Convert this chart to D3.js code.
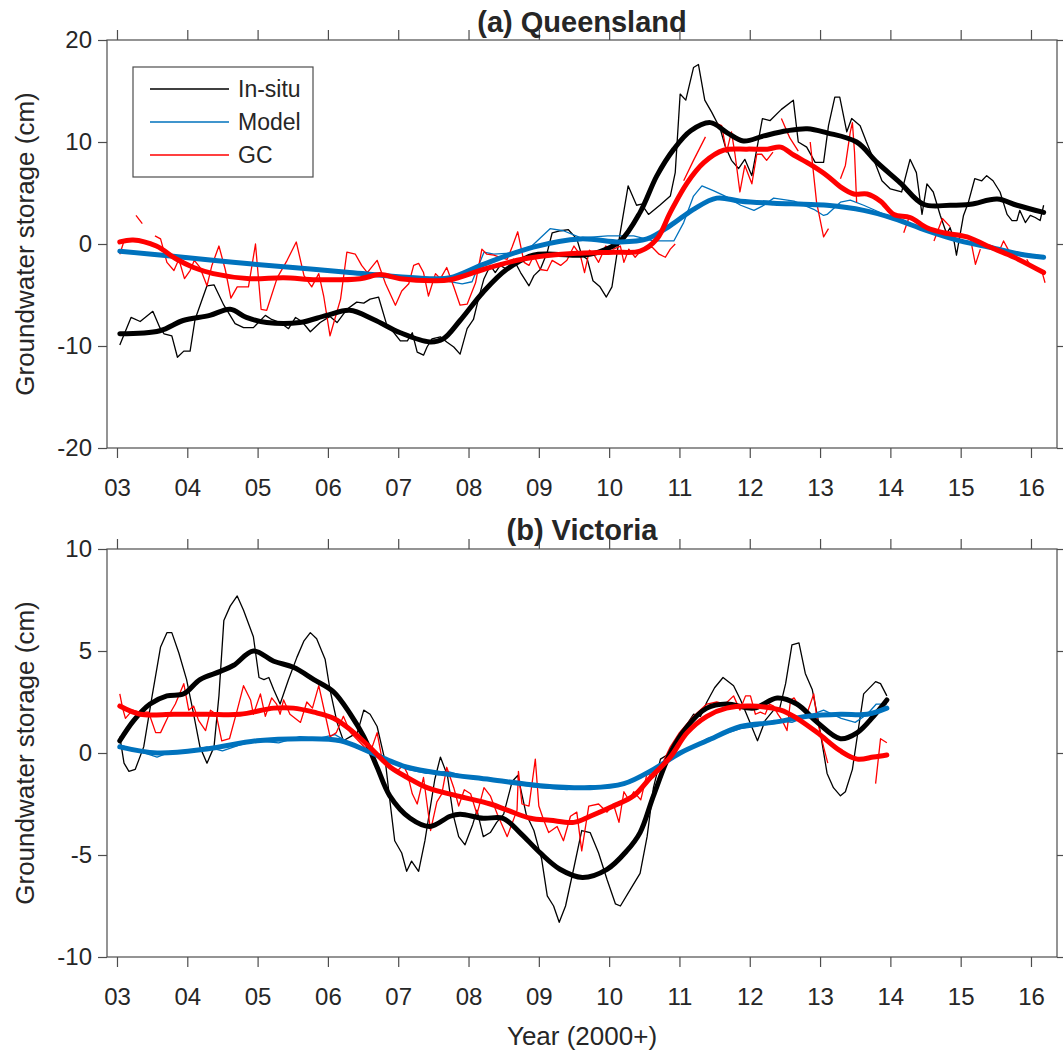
<!DOCTYPE html>
<html>
<head>
<meta charset="utf-8">
<script src="https://cdn.jsdelivr.net/npm/d3@7"></script>
<style>
  body { margin: 0; background: #fff; }
  svg text { font-family: "Liberation Sans", Arial, sans-serif; fill: #262626; }
</style>
</head>
<body>
<div id="chart"></div>
<script>
// ---- data (year offset from 2000, groundwater storage in cm) ----
const yearTicks = [3, 4, 5, 6, 7, 8, 9, 10, 11, 12, 13, 14, 15, 16];
const yearLabels = ["03", "04", "05", "06", "07", "08", "09", "10", "11", "12", "13", "14", "15", "16"];
const seriesNames = ["In-situ", "Model", "GC"];

// (a) Queensland
const qldInsitu = [[3.04,-9.9],[3.20,-7.2],[3.33,-7.6],[3.51,-6.6],[3.61,-8.2],[3.67,-8.8],[3.78,-9.0],[3.86,-11.1],[3.95,-10.5],[4.04,-10.5],[4.11,-7.4],[4.28,-4.1],[4.38,-4.0],[4.52,-6.0],[4.68,-7.8],[4.80,-8.2],[4.94,-8.2],[5.11,-7.0],[5.20,-7.4],[5.32,-7.7],[5.44,-8.3],[5.54,-7.2],[5.63,-7.6],[5.75,-8.6],[5.89,-7.7],[6.03,-7.1],[6.13,-7.7],[6.27,-6.4],[6.41,-5.7],[6.51,-5.8],[6.60,-5.4],[6.72,-5.2],[6.84,-8.0],[6.94,-8.7],[7.03,-9.5],[7.13,-9.5],[7.20,-8.7],[7.27,-10.6],[7.36,-10.9],[7.41,-10.1],[7.48,-9.3],[7.60,-9.1],[7.69,-9.6],[7.79,-10.1],[7.88,-10.8],[7.98,-8.3],[8.07,-7.4],[8.14,-5.4],[8.22,-3.4],[8.31,-2.1],[8.38,-2.8],[8.45,-2.1],[8.55,-2.5],[8.64,-1.5],[8.74,-2.8],[8.86,-4.1],[8.93,-3.1],[9.02,-2.5],[9.12,-0.8],[9.19,1.1],[9.31,1.3],[9.42,1.4],[9.54,0.5],[9.61,-1.1],[9.69,-1.5],[9.77,-3.6],[9.87,-4.2],[9.96,-5.2],[10.04,-4.2],[10.15,0.8],[10.27,5.7],[10.39,3.8],[10.46,3.9],[10.56,2.9],[10.72,3.8],[10.87,4.7],[10.94,7.0],[11.01,14.7],[11.09,14.1],[11.20,17.3],[11.27,17.6],[11.36,14.1],[11.46,12.9],[11.58,11.3],[11.65,9.6],[11.74,8.2],[11.84,7.4],[11.93,8.3],[12.03,6.7],[12.10,9.3],[12.18,12.3],[12.29,12.1],[12.45,13.2],[12.62,14.1],[12.69,10.0],[12.81,9.5],[12.93,8.0],[13.05,8.0],[13.12,11.6],[13.21,14.4],[13.28,14.4],[13.38,11.0],[13.45,12.3],[13.57,11.6],[13.66,10.0],[13.78,8.0],[13.88,6.2],[14.00,5.4],[14.16,5.1],[14.28,8.3],[14.37,7.0],[14.45,2.9],[14.52,5.9],[14.61,5.1],[14.71,2.8],[14.80,1.0],[14.85,1.6],[14.90,0.5],[14.94,-1.1],[15.04,2.8],[15.11,4.1],[15.20,6.4],[15.30,6.2],[15.37,6.7],[15.46,6.2],[15.56,5.1],[15.66,2.9],[15.73,2.3],[15.80,2.3],[15.84,3.3],[15.92,2.1],[15.99,2.8],[16.06,2.6],[16.13,2.3],[16.18,3.8]];
const qldModel = [[3.04,-0.6],[3.5,-1.0],[4.0,-1.3],[4.5,-1.6],[5.0,-2.0],[5.5,-2.3],[6.0,-2.6],[6.5,-2.8],[7.0,-3.1],[7.5,-3.4],[7.91,-3.9],[8.05,-3.7],[8.22,-0.8],[8.36,-1.0],[8.6,-0.9],[8.9,-0.2],[9.16,1.5],[9.35,1.3],[9.6,0.6],[9.98,0.8],[10.35,0.8],[10.63,0.3],[10.92,0.3],[11.06,2.1],[11.20,4.7],[11.32,5.7],[11.49,5.2],[11.68,4.6],[11.87,3.8],[12.06,3.3],[12.20,3.8],[12.34,4.5],[12.63,4.2],[12.91,3.4],[13.05,2.8],[13.10,2.9],[13.29,4.1],[13.43,4.3],[13.62,3.8],[14.05,2.5],[14.52,1.4],[15.0,0.4],[15.47,-0.3],[15.85,-0.9],[16.18,-1.2]];
const qldGC = [[3.04,-1.0],[3.10,0.3],null,[3.27,2.8],[3.36,2.0],null,[3.54,0.8],[3.62,0.5],[3.71,-1.8],[3.81,-2.6],[3.88,-1.5],[3.96,-3.4],[4.04,-2.6],[4.10,-1.6],[4.18,-2.3],[4.28,-4.1],[4.35,-2.1],[4.45,-0.2],[4.54,-2.5],[4.62,-5.3],[4.71,-4.2],[4.87,-4.2],[4.97,0.0],[5.05,-6.4],[5.13,-6.5],[5.28,-3.3],[5.42,-1.6],[5.55,0.2],[5.66,-3.1],[5.77,-4.2],[5.87,-2.9],[5.94,-5.1],[6.03,-9.0],[6.18,-5.4],[6.27,-0.8],[6.39,-1.0],[6.48,-2.1],[6.56,-2.8],[6.70,-1.6],[6.82,-3.9],[6.96,-6.0],[7.05,-4.6],[7.15,-3.9],[7.22,-2.1],[7.29,-1.9],[7.36,-2.8],[7.43,-5.1],[7.53,-2.9],[7.60,-3.4],[7.69,-2.3],[7.79,-4.2],[7.88,-6.0],[7.98,-5.9],[8.10,-3.8],[8.19,-0.5],[8.26,-1.0],[8.36,-1.1],[8.45,-1.3],[8.55,-1.5],[8.62,-0.3],[8.70,1.2],[8.79,-1.8],[8.86,-2.1],[8.93,-1.1],[9.02,-2.5],[9.12,-2.6],[9.19,-1.6],[9.31,-2.1],[9.40,-1.6],[9.50,-0.2],[9.59,-1.1],[9.65,-2.8],[9.72,-0.6],[9.78,-1.0],[9.85,-1.8],[9.95,-0.2],[10.06,-0.5],[10.16,-0.2],[10.21,-1.8],[10.28,-0.5],[10.37,-1.3],[10.47,-0.5],[10.61,-0.3],[10.71,-1.0],[10.80,-1.3],[10.87,-0.5],[10.94,0.0],null,[11.06,6.2],[11.20,8.2],[11.37,10.5],null,[11.53,11.8],[11.60,11.6],[11.67,9.0],[11.74,11.0],[11.79,8.8],[11.86,5.1],[11.93,7.7],[12.03,5.9],[12.10,8.8],[12.17,8.8],[12.24,8.2],[12.33,9.0],null,[12.45,12.3],[12.57,10.4],[12.69,9.1],null,[12.86,10.0],[12.95,4.1],[13.05,0.7],[13.12,1.5],null,[13.29,6.4],[13.36,7.7],[13.43,11.0],[13.46,11.9],[13.49,9.0],[13.52,4.1],null,[14.19,1.1],[14.26,2.5],null,[14.62,0.3],[14.74,2.5],[14.85,1.7],null,[15.14,0.5],[15.21,-2.0],[15.28,-0.5],null,[15.56,-0.5],[15.61,0.3],[15.68,-0.6],null,[15.94,-1.5],[15.98,-2.0],null,[16.16,-2.8],[16.20,-3.8]];
const qldInsituSmooth = [[3.04,-8.8],[3.61,-8.5],[3.94,-7.5],[4.32,-7.0],[4.61,-6.4],[4.84,-7.2],[5.13,-7.7],[5.60,-7.7],[5.98,-7.0],[6.31,-6.5],[6.65,-7.4],[7.03,-8.7],[7.45,-9.6],[7.64,-9.3],[7.88,-7.5],[8.21,-4.7],[8.54,-2.5],[8.92,-1.1],[9.21,-1.0],[9.6,-1.1],[9.85,-0.8],[10.16,0.3],[10.44,3.1],[10.68,6.7],[10.92,9.3],[11.16,11.1],[11.44,11.9],[11.68,10.9],[11.91,10.1],[12.20,10.6],[12.53,11.1],[12.82,11.3],[13.10,10.9],[13.52,10.0],[13.81,8.0],[14.14,6.0],[14.47,3.9],[14.85,3.8],[15.14,3.9],[15.52,4.4],[15.80,3.8],[16.18,3.1]];
const qldModelSmooth = [[3.04,-0.7],[3.8,-1.2],[4.65,-1.8],[5.5,-2.3],[6.31,-2.8],[7.50,-3.4],[7.74,-3.3],[8.21,-2.0],[8.92,-0.3],[9.59,0.5],[10.16,0.2],[10.54,0.5],[10.87,1.8],[11.20,3.4],[11.53,4.5],[11.87,4.2],[12.34,4.0],[12.77,3.9],[13.10,3.8],[13.62,3.3],[14.05,2.5],[14.52,1.3],[14.99,0.3],[15.47,-0.4],[15.85,-1.0],[16.18,-1.3]];
const qldGCSmooth = [[3.04,0.2],[3.23,0.4],[3.56,-0.2],[3.85,-1.5],[4.09,-2.3],[4.37,-2.9],[4.89,-3.4],[5.37,-3.3],[5.84,-3.5],[6.46,-3.4],[6.74,-3.0],[7.03,-3.4],[7.50,-3.6],[7.74,-3.5],[8.21,-2.5],[8.69,-1.6],[9.16,-1.1],[9.59,-0.9],[10.06,-0.8],[10.44,-0.7],[10.68,0.5],[10.87,3.1],[11.11,6.0],[11.35,8.0],[11.63,9.2],[11.96,9.3],[12.25,9.3],[12.44,9.5],[12.63,8.7],[12.86,7.8],[13.10,6.7],[13.29,5.6],[13.48,4.9],[13.67,4.9],[13.86,4.2],[14.05,2.9],[14.28,2.6],[14.52,1.6],[14.76,1.1],[15.09,0.7],[15.38,-0.2],[15.76,-1.3],[16.18,-2.8]];

// (b) Victoria
const vicInsitu = [[3.04,0.8],[3.10,-0.5],[3.17,-0.9],[3.26,-0.8],[3.38,0.3],[3.50,2.8],[3.62,5.2],[3.71,5.9],[3.78,5.9],[3.88,4.9],[3.99,3.6],[4.09,1.9],[4.18,0.3],[4.28,-0.5],[4.38,0.3],[4.45,2.8],[4.52,6.5],[4.61,7.2],[4.71,7.7],[4.80,7.0],[4.94,5.7],[5.02,3.7],[5.09,3.6],[5.16,3.7],[5.23,3.1],[5.32,2.4],[5.44,3.6],[5.56,4.7],[5.66,5.5],[5.75,5.9],[5.84,5.6],[5.96,4.6],[6.03,3.1],[6.13,1.5],[6.22,0.6],[6.32,0.8],[6.42,1.0],[6.51,2.1],[6.60,1.9],[6.70,1.3],[6.82,-0.5],[6.88,-2.3],[6.95,-4.3],[7.05,-4.9],[7.12,-5.8],[7.19,-5.3],[7.29,-5.8],[7.38,-4.3],[7.45,-2.8],[7.52,-1.3],[7.60,-0.2],[7.70,-1.1],[7.78,-3.0],[7.86,-4.1],[7.95,-4.5],[8.06,-3.5],[8.12,-2.8],[8.21,-4.1],[8.31,-3.9],[8.40,-3.4],[8.50,-3.0],[8.62,-1.4],[8.70,-1.1],[8.82,-3.0],[8.93,-3.8],[9.04,-5.2],[9.12,-7.0],[9.21,-7.5],[9.29,-8.3],[9.38,-7.5],[9.50,-5.6],[9.61,-3.8],[9.73,-3.9],[9.85,-4.9],[9.97,-6.2],[10.09,-7.4],[10.16,-7.5],[10.30,-6.7],[10.44,-5.9],[10.54,-4.1],[10.63,-1.7],[10.73,-0.3],[10.87,0.0],[11.01,0.9],[11.20,1.9],[11.30,1.8],[11.39,2.5],[11.50,3.2],[11.62,3.7],[11.77,3.3],[11.87,2.6],[11.99,1.6],[12.11,0.6],[12.22,1.6],[12.34,2.1],[12.42,2.1],[12.51,3.4],[12.60,5.3],[12.70,5.4],[12.79,3.9],[12.89,3.1],[12.98,1.5],[13.10,-1.0],[13.19,-1.7],[13.29,-2.1],[13.36,-1.9],[13.46,-0.8],[13.55,1.3],[13.62,2.9],[13.79,3.5],[13.86,3.4],[13.95,2.8]];
const vicModel = [[3.04,0.4],[3.3,0.1],[3.57,-0.2],[3.8,0.1],[4.05,0.1],[4.28,0.3],[4.5,0.1],[4.75,0.4],[4.99,0.6],[5.3,0.5],[5.6,0.8],[5.85,0.7],[6.1,0.9],[6.3,0.5],[6.56,0.1],[6.89,-0.4],[7.13,-0.8],[7.4,-1.0],[7.7,-0.9],[8.0,-1.2],[8.31,-1.3],[8.6,-1.5],[9.02,-1.7],[9.4,-1.8],[9.73,-1.6],[10.0,-1.7],[10.21,-1.5],[10.63,-0.8],[11.01,0.0],[11.39,0.7],[11.6,0.9],[11.87,1.2],[12.1,1.3],[12.34,1.6],[12.6,1.5],[12.82,1.8],[13.05,2.1],[13.3,1.7],[13.5,1.5],[13.67,1.9],[13.8,2.4],[13.95,2.4]];
const vicGC = [[3.04,2.9],[3.08,2.2],[3.12,1.7],[3.22,2.1],[3.33,2.0],[3.45,2.0],[3.55,1.0],[3.62,1.0],[3.73,1.8],[3.83,2.4],[3.95,3.4],[4.02,2.1],[4.09,2.3],[4.16,1.6],[4.26,1.1],[4.33,2.1],[4.41,1.9],[4.49,0.6],[4.60,0.7],[4.71,2.1],[4.80,3.3],[4.90,2.6],[4.94,1.9],[5.04,2.9],[5.11,1.8],[5.20,2.7],[5.27,2.4],[5.32,1.9],[5.37,2.6],[5.46,1.9],[5.61,1.5],[5.70,2.5],[5.78,2.2],[5.87,3.3],[5.96,1.9],[6.03,0.8],[6.12,1.0],[6.22,1.8],[6.32,1.0],[6.46,0.5],[6.60,0.0],[6.70,1.0],[6.77,-0.3],[6.88,-0.6],[6.98,-0.9],[7.07,-0.6],[7.13,-1.0],[7.20,-2.0],[7.27,-2.5],[7.36,-1.2],[7.46,-3.8],[7.55,-2.4],[7.62,-2.0],[7.69,-0.7],[7.79,-1.7],[7.86,-2.6],[7.94,-1.8],[8.03,-2.0],[8.12,-3.0],[8.22,-1.7],[8.31,-2.1],[8.41,-3.0],[8.55,-4.1],[8.69,-2.8],[8.71,-0.9],[8.76,-2.5],[8.86,-2.6],[8.95,-0.3],[9.00,-2.6],[9.07,-3.3],[9.14,-3.9],[9.26,-3.6],[9.35,-4.3],[9.45,-3.1],[9.54,-2.9],[9.61,-4.8],[9.71,-2.6],[9.85,-2.5],[9.97,-2.9],[10.06,-2.5],[10.14,-3.4],[10.21,-1.9],[10.28,-2.3],[10.35,-1.9],[10.45,-2.3],[10.54,-1.0],[10.63,-1.2],[10.73,-0.7],[10.87,0.3],[11.00,1.0],[11.20,1.8],[11.39,2.4],[11.53,2.5],[11.65,2.4],[11.77,2.8],[11.86,2.1],[11.94,2.8],[12.01,2.8],[12.08,1.9],[12.15,2.0],[12.22,1.9],[12.28,2.4],[12.34,2.3],[12.40,1.9],[12.46,1.6],[12.53,1.1],[12.58,2.6],[12.63,2.7],[12.72,2.2],[12.82,2.0],[12.91,2.9],[12.96,1.6],[13.05,0.3],[13.11,-0.5],null,[13.79,-1.5],[13.86,0.7],[13.95,0.5]];
const vicInsituSmooth = [[3.04,0.6],[3.24,1.6],[3.47,2.4],[3.71,2.8],[3.95,2.9],[4.18,3.6],[4.47,4.0],[4.66,4.3],[4.94,5.0],[5.23,4.5],[5.51,4.2],[5.80,3.6],[6.08,3.0],[6.32,1.9],[6.51,0.8],[6.70,-0.7],[6.88,-2.1],[7.17,-3.2],[7.45,-3.6],[7.74,-3.1],[7.88,-3.0],[8.21,-3.2],[8.49,-3.2],[8.73,-3.9],[9.02,-4.9],[9.30,-5.7],[9.62,-6.1],[9.97,-5.7],[10.25,-4.8],[10.44,-3.9],[10.63,-2.1],[10.87,0.0],[11.11,1.3],[11.39,2.2],[11.67,2.4],[12.06,2.2],[12.39,2.7],[12.67,2.4],[12.96,1.5],[13.29,0.7],[13.53,1.0],[13.76,1.8],[13.95,2.6]];
const vicModelSmooth = [[3.04,0.3],[3.57,0.0],[4.28,0.2],[4.99,0.6],[5.70,0.7],[6.18,0.6],[6.56,0.1],[6.89,-0.4],[7.13,-0.7],[7.60,-1.0],[8.31,-1.3],[9.02,-1.6],[9.73,-1.7],[10.21,-1.5],[10.63,-0.8],[11.01,0.0],[11.39,0.6],[11.87,1.3],[12.34,1.5],[12.82,1.8],[13.29,1.9],[13.67,1.9],[13.95,2.2]];
const vicGCSmooth = [[3.04,2.3],[3.33,1.9],[3.81,1.9],[4.28,1.9],[4.75,1.9],[5.23,2.2],[5.51,2.2],[5.80,2.0],[6.08,1.7],[6.37,1.0],[6.65,0.1],[6.89,-0.7],[7.13,-1.2],[7.41,-1.7],[7.84,-2.1],[8.31,-2.5],[8.55,-2.8],[8.88,-3.2],[9.16,-3.3],[9.50,-3.4],[9.73,-3.1],[10.06,-2.6],[10.35,-2.1],[10.59,-1.2],[10.87,-0.2],[11.11,1.0],[11.39,1.8],[11.67,2.2],[12.01,2.3],[12.44,2.1],[12.67,1.7],[12.96,1.0],[13.29,0.1],[13.53,-0.3],[13.76,-0.2],[13.95,-0.1]];

const colors = ["#000000", "#0072BD", "#FF0000"];
const axisColor = "#4d4d4d";

const width = 1063, height = 1055;
const svg = d3.select("#chart").append("svg")
    .attr("width", width)
    .attr("height", height)
    .style("background", "#fff");

// shared x scale (both panels use the same frame)
const x = d3.scaleLinear().domain([2.858, 16.37]).range([107, 1057]);

function drawPanel(opt) {
    const y = d3.scaleLinear().domain(opt.domain).range([opt.bottom, opt.top]);
    const g = svg.append("g");

    // thin monthly lines first, then the smoothed ones on top
    const thin = d3.line()
        .defined(d => d !== null)
        .x(d => x(d[0]))
        .y(d => y(d[1]));
    const thick = d3.line()
        .curve(d3.curveCatmullRom.alpha(0.5))
        .x(d => x(d[0]))
        .y(d => y(d[1]));

    opt.raw.forEach((s, i) => {
        g.append("path")
            .datum(s)
            .attr("fill", "none")
            .attr("stroke", colors[i])
            .attr("stroke-width", 1.3)
            .attr("stroke-linejoin", "round")
            .attr("d", thin);
    });
    opt.smooth.forEach((s, i) => {
        g.append("path")
            .datum(s)
            .attr("fill", "none")
            .attr("stroke", colors[i])
            .attr("stroke-width", 5)
            .attr("stroke-linejoin", "round")
            .attr("stroke-linecap", "round")
            .attr("d", thick);
    });

    // box
    g.append("rect")
        .attr("x", 107).attr("y", opt.top)
        .attr("width", 1057 - 107).attr("height", opt.bottom - opt.top)
        .attr("fill", "none")
        .attr("stroke", axisColor)
        .attr("stroke-width", 1.2);

    // axes, ticks pointing outwards on all four sides
    const bottomAxis = g.append("g")
        .attr("transform", `translate(0,${opt.bottom})`)
        .call(d3.axisBottom(x).tickValues(yearTicks)
            .tickFormat((d, i) => yearLabels[i])
            .tickSizeInner(10).tickSizeOuter(0).tickPadding(21));
    const topAxis = g.append("g")
        .attr("transform", `translate(0,${opt.top})`)
        .call(d3.axisTop(x).tickValues(yearTicks).tickFormat("")
            .tickSizeInner(10).tickSizeOuter(0));
    const leftAxis = g.append("g")
        .attr("transform", "translate(107,0)")
        .call(d3.axisLeft(y).tickValues(opt.ticks)
            .tickFormat(d => String(d))
            .tickSizeInner(9).tickSizeOuter(0).tickPadding(6));
    const rightAxis = g.append("g")
        .attr("transform", "translate(1057,0)")
        .call(d3.axisRight(y).tickValues(opt.ticks).tickFormat("")
            .tickSizeInner(9).tickSizeOuter(0));

    [bottomAxis, topAxis, leftAxis, rightAxis].forEach(a => {
        a.select(".domain").remove();
        a.selectAll(".tick line").attr("stroke", axisColor).attr("stroke-width", 1.2);
        a.selectAll("text")
            .style("font-family", '"Liberation Sans", Arial, sans-serif')
            .style("font-size", "24px")
            .attr("fill", "#262626");
    });

    // title
    g.append("text")
        .attr("x", (107 + 1057) / 2)
        .attr("y", opt.titleY)
        .attr("text-anchor", "middle")
        .style("font-size", "29px")
        .style("font-weight", "bold")
        .text(opt.title);

    // y label
    g.append("text")
        .attr("transform", `translate(34,${(opt.top + opt.bottom) / 2}) rotate(-90)`)
        .attr("text-anchor", "middle")
        .style("font-size", "26px")
        .text("Groundwater storage (cm)");

    return g;
}

drawPanel({
    title: "(a) Queensland", titleY: 32,
    top: 40, bottom: 448, domain: [-20, 20], ticks: [-20, -10, 0, 10, 20],
    raw: [qldInsitu, qldModel, qldGC],
    smooth: [qldInsituSmooth, qldModelSmooth, qldGCSmooth]
});

drawPanel({
    title: "(b) Victoria", titleY: 540,
    top: 549, bottom: 957, domain: [-10, 10], ticks: [-10, -5, 0, 5, 10],
    raw: [vicInsitu, vicModel, vicGC],
    smooth: [vicInsituSmooth, vicModelSmooth, vicGCSmooth]
});

// x label
svg.append("text")
    .attr("x", (107 + 1057) / 2)
    .attr("y", 1045)
    .attr("text-anchor", "middle")
    .style("font-size", "26px")
    .text("Year (2000+)");

// legend (panel a)
const legend = svg.append("g");
legend.append("rect")
    .attr("x", 133).attr("y", 67)
    .attr("width", 180).attr("height", 110)
    .attr("fill", "#fff")
    .attr("stroke", axisColor)
    .attr("stroke-width", 1.2);
seriesNames.forEach((name, i) => {
    const ly = 89 + i * 33;
    legend.append("line")
        .attr("x1", 150).attr("x2", 229)
        .attr("y1", ly).attr("y2", ly)
        .attr("stroke", colors[i])
        .attr("stroke-width", 1.3);
    legend.append("text")
        .attr("x", 238).attr("y", ly)
        .attr("dy", "0.35em")
        .style("font-size", "23px")
        .text(name);
});
</script>
</body>
</html>
